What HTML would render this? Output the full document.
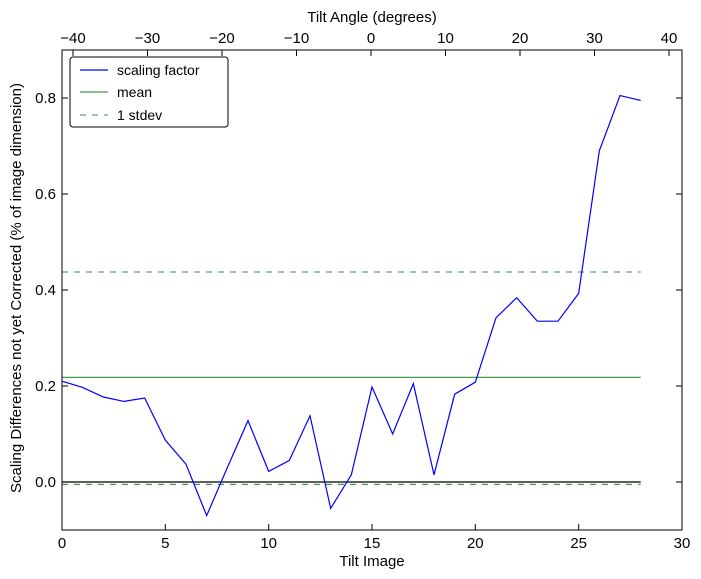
<!DOCTYPE html>
<html><head><style>body{margin:0;background:#fff}svg{display:block;font-family:"Liberation Sans",sans-serif}</style></head><body>
<svg width="701" height="579" xmlns="http://www.w3.org/2000/svg">
<rect width="701" height="579" fill="#fff"/>
<g transform="translate(62,482)">
<line x1="0" y1="0" x2="578.7" y2="0" stroke="#000" stroke-width="1.2"/>
<line x1="0" y1="-104.6" x2="578.7" y2="-104.6" stroke="#4a9a4a" stroke-width="1.2"/>
<line x1="0" y1="-210" x2="578.7" y2="-210" stroke="#6a9a7a" stroke-width="1.2" stroke-dasharray="6,6"/>
<line x1="0" y1="2.4" x2="578.7" y2="2.4" stroke="#4a9a4a" stroke-width="1.2" stroke-dasharray="6,6"/>
<polyline fill="none" stroke="#0000ff" stroke-width="1.2" points="0,-100.8 20.67,-94.6 41.33,-85 62,-80.6 82.67,-84 103.33,-41.8 124,-17.8 144.67,33.6 165.33,-14.4 186,-61.4 206.67,-10.6 227.33,-21.6 248,-66.2 268.67,26.4 289.33,-7.2 310,-95 330.67,-48 351.33,-98.4 372,-7.2 392.67,-87.8 413.33,-99.8 434,-164.2 454.67,-184.3 475.33,-160.8 496,-160.8 516.67,-188.6 537.33,-331.2 558,-386.4 578.67,-381.6"/>
</g>
<rect x="62" y="50" width="620" height="480" fill="none" stroke="#000" stroke-width="1"/>
<g stroke="#000">
<line x1="62" y1="530" x2="62" y2="524"/><line x1="165.3" y1="530" x2="165.3" y2="524"/><line x1="268.7" y1="530" x2="268.7" y2="524"/><line x1="372" y1="530" x2="372" y2="524"/><line x1="475.3" y1="530" x2="475.3" y2="524"/><line x1="578.7" y1="530" x2="578.7" y2="524"/>
<line x1="62" y1="482" x2="68" y2="482"/><line x1="62" y1="386" x2="68" y2="386"/><line x1="62" y1="290" x2="68" y2="290"/><line x1="62" y1="194" x2="68" y2="194"/><line x1="62" y1="98" x2="68" y2="98"/>
<line x1="682" y1="482" x2="676" y2="482"/><line x1="682" y1="386" x2="676" y2="386"/><line x1="682" y1="290" x2="676" y2="290"/><line x1="682" y1="194" x2="676" y2="194"/><line x1="682" y1="98" x2="676" y2="98"/>
<line x1="73" y1="50" x2="73" y2="56"/><line x1="147.5" y1="50" x2="147.5" y2="56"/><line x1="222" y1="50" x2="222" y2="56"/><line x1="296.5" y1="50" x2="296.5" y2="56"/><line x1="371" y1="50" x2="371" y2="56"/><line x1="445.5" y1="50" x2="445.5" y2="56"/><line x1="520" y1="50" x2="520" y2="56"/><line x1="594.5" y1="50" x2="594.5" y2="56"/><line x1="669" y1="50" x2="669" y2="56"/>
</g>
<g font-size="15" text-anchor="middle" fill="#000">
<text x="62" y="548">0</text><text x="165.3" y="548">5</text><text x="268.7" y="548">10</text><text x="372" y="548">15</text><text x="475.3" y="548">20</text><text x="578.7" y="548">25</text><text x="682" y="548">30</text>
<text x="73" y="43">−40</text><text x="147.5" y="43">−30</text><text x="222" y="43">−20</text><text x="296.5" y="43">−10</text><text x="371" y="43">0</text><text x="445.5" y="43">10</text><text x="520" y="43">20</text><text x="594.5" y="43">30</text><text x="669" y="43">40</text>
<text x="372" y="566">Tilt Image</text>
<text x="372" y="22">Tilt Angle (degrees)</text>
</g>
<g font-size="15" text-anchor="end">
<text x="56" y="487">0.0</text><text x="56" y="391">0.2</text><text x="56" y="295">0.4</text><text x="56" y="199">0.6</text><text x="56" y="103">0.8</text>
</g>
<text x="21" y="288" font-size="15" text-anchor="middle" transform="rotate(-90 21 288)">Scaling Differences not yet Corrected (% of image dimension)</text>
<rect x="70" y="57" width="158" height="70" rx="3" fill="#fff" stroke="#000"/>
<line x1="80" y1="70" x2="108" y2="70" stroke="#0000ff" stroke-width="1.2"/>
<line x1="80" y1="92" x2="108" y2="92" stroke="#4a9a4a" stroke-width="1.2"/>
<line x1="80" y1="115" x2="108" y2="115" stroke="#6a9a7a" stroke-width="1.2" stroke-dasharray="6,6"/>
<g font-size="14"><text x="117" y="75">scaling factor</text><text x="117" y="97">mean</text><text x="117" y="120">1 stdev</text></g>
</svg>
</body></html>
